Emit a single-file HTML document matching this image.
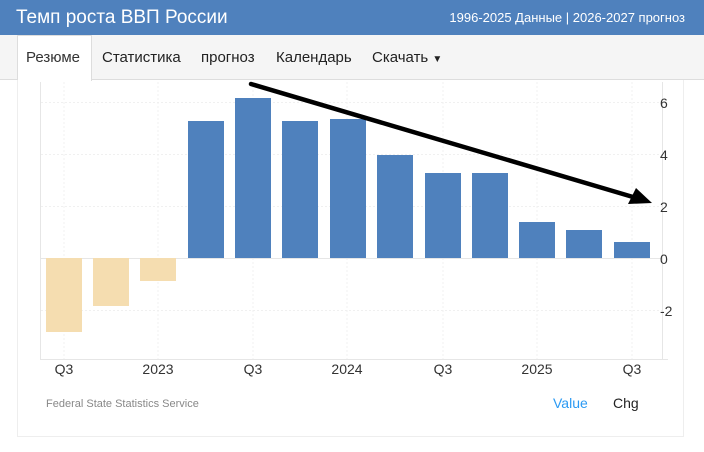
<!DOCTYPE html>
<html><head><meta charset="utf-8"><style>
body{margin:0;width:704px;height:452px;background:#fff;font-family:"Liberation Sans",sans-serif;position:relative;overflow:hidden}
.hd{position:absolute;left:0;top:0;width:704px;height:35px;background:#4f81bd;color:#fff}
.hd .t{position:absolute;left:16px;top:7px;font-size:19px}
.hd .r{position:absolute;right:19px;top:10px;font-size:13px}
.nav{position:absolute;left:0;top:35px;width:704px;height:44px;background:#f5f5f5;border-bottom:1px solid #ddd}
.nav span{position:absolute;top:14px;font-size:15px;color:#222}
.act{position:absolute;left:17px;top:35px;width:75px;height:46px;background:#fff;border:1px solid #ddd;border-bottom:none;box-sizing:border-box}
.box{position:absolute;left:17px;top:80px;width:667px;height:357px;border:1px solid #eee;border-top:none;box-sizing:border-box}
</style></head><body>
<div class="hd"><div class="t">Темп роста ВВП России</div><div class="r">1996-2025 Данные | 2026-2027 прогноз</div></div>
<div class="nav"></div>
<div class="act"></div>
<div class="nav" style="background:none;border:none">
<span style="left:26px;color:#333">Резюме</span><span style="left:102px">Статистика</span><span style="left:201px">прогноз</span><span style="left:276px">Календарь</span><span style="left:372px">Скачать <small style="font-size:10px">▼</small></span></div>
<div class="box"></div>
<svg width="704" height="452" style="position:absolute;left:0;top:0" font-family="Liberation Sans, sans-serif">
<g stroke="#f0f0f0" stroke-width="1" stroke-dasharray="2,2">
<line x1="41" x2="662" y1="102.5" y2="102.5"/><line x1="41" x2="662" y1="154.5" y2="154.5"/><line x1="41" x2="662" y1="206.5" y2="206.5"/><line x1="41" x2="662" y1="310.5" y2="310.5"/>
<line x1="64" x2="64" y1="82" y2="359"/><line x1="158" x2="158" y1="82" y2="359"/><line x1="253" x2="253" y1="82" y2="359"/><line x1="347" x2="347" y1="82" y2="359"/><line x1="443" x2="443" y1="82" y2="359"/><line x1="537" x2="537" y1="82" y2="359"/><line x1="632" x2="632" y1="82" y2="359"/>
</g>
<line x1="40.5" x2="40.5" y1="82" y2="359" stroke="#e6e6e6"/>
<line x1="662.5" x2="662.5" y1="82" y2="359" stroke="#e6e6e6"/>
<line x1="40" x2="668" y1="359.5" y2="359.5" stroke="#e6e6e6"/>
<line x1="41" x2="662" y1="258.5" y2="258.5" stroke="#e6e6e6"/>
<g fill="#f5ddb0">
<rect x="46" y="258" width="36" height="74"/><rect x="93" y="258" width="36" height="48"/><rect x="140" y="258" width="36" height="23"/></g>
<g fill="#4f81bd">
<rect x="188" y="121" width="36" height="137"/><rect x="235" y="98" width="36" height="160"/><rect x="282" y="121" width="36" height="137"/><rect x="330" y="119" width="36" height="139"/><rect x="377" y="155" width="36" height="103"/><rect x="425" y="173" width="36" height="85"/><rect x="472" y="173" width="36" height="85"/><rect x="519" y="222" width="36" height="36"/><rect x="566" y="230" width="36" height="28"/><rect x="614" y="242" width="36" height="16"/></g>
<g font-size="14" fill="#333">
<text x="660" y="108">6</text><text x="660" y="160">4</text><text x="660" y="212">2</text><text x="660" y="264">0</text><text x="660" y="316">-2</text>
<g text-anchor="middle"><text x="64" y="374">Q3</text><text x="158" y="374">2023</text><text x="253" y="374">Q3</text><text x="347" y="374">2024</text><text x="443" y="374">Q3</text><text x="537" y="374">2025</text><text x="632" y="374">Q3</text></g></g>
<line x1="251" y1="84" x2="633" y2="197" stroke="#000" stroke-width="4.5" stroke-linecap="round"/>
<polygon points="652,203 628,204 636,188" fill="#000"/>
<text x="46" y="407" font-size="11" fill="#888">Federal State Statistics Service</text>
<text x="553" y="408" font-size="14" fill="#2b9af3">Value</text>
<text x="613" y="408" font-size="14" fill="#222">Chg</text>
</svg>
</body></html>
